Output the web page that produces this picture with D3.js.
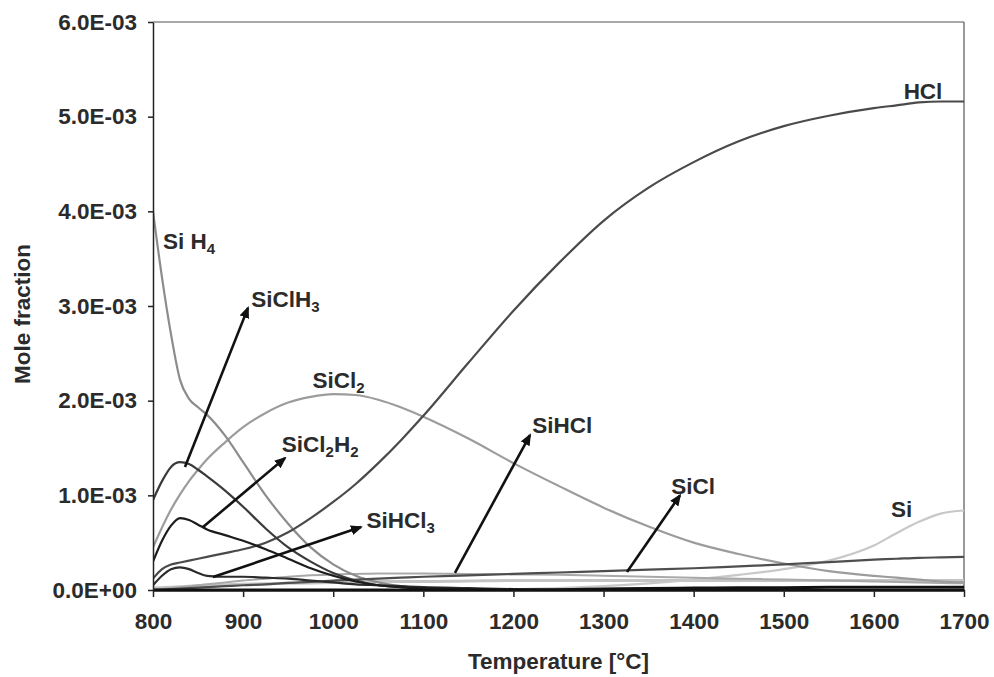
<!DOCTYPE html>
<html>
<head>
<meta charset="utf-8">
<script src="https://cdn.jsdelivr.net/npm/d3@7"></script>
<style>
  body { margin: 0; background: #fff; }
  text { font-family: "Liberation Sans", Arial, sans-serif; font-weight: bold; fill: #2b2b2b; }
</style>
</head>
<body>
<script>
/* ------------------------------- Chart data ------------------------------- */
// temperature grid [°C]
const temps = [800, 810, 820, 830, 840, 850, 860, 880, 900, 925, 950, 975, 1000, 1025, 1050, 1075, 1100,
               1150, 1200, 1250, 1300, 1350, 1400, 1450, 1500, 1550, 1600, 1625, 1650, 1675, 1700];

// mole fractions, in units of 1E-03
const SiH4    = [4.0, 3.3, 2.7, 2.22, 2.02, 1.93, 1.85, 1.63, 1.35, 1.0, 0.7, 0.45, 0.27, 0.15, 0.08, 0.04, 0.02,
                 0.01, 0, 0, 0, 0, 0, 0, 0, 0, 0, 0, 0, 0, 0];
const SiClH3  = [0.95, 1.15, 1.3, 1.35, 1.33, 1.27, 1.2, 1.05, 0.88, 0.65, 0.45, 0.3, 0.18, 0.1, 0.05, 0.03, 0.015,
                 0.005, 0, 0, 0, 0, 0, 0, 0, 0, 0, 0, 0, 0, 0];
const SiCl2   = [0.45, 0.66, 0.85, 1.01, 1.15, 1.27, 1.38, 1.56, 1.72, 1.87, 1.98, 2.04, 2.07, 2.06, 2.01, 1.93, 1.83,
                 1.6, 1.34, 1.1, 0.87, 0.67, 0.5, 0.38, 0.28, 0.2, 0.15, 0.13, 0.11, 0.09, 0.08];
const SiCl2H2 = [0.3, 0.52, 0.68, 0.76, 0.74, 0.69, 0.64, 0.58, 0.52, 0.43, 0.33, 0.23, 0.15, 0.09, 0.05, 0.03, 0.02,
                 0.01, 0, 0, 0, 0, 0, 0, 0, 0, 0, 0, 0, 0, 0];
const SiHCl3  = [0.05, 0.15, 0.22, 0.24, 0.22, 0.18, 0.15, 0.14, 0.14, 0.13, 0.12, 0.1, 0.08, 0.06, 0.05, 0.04, 0.03,
                 0.02, 0.01, 0.005, 0, 0, 0, 0, 0, 0, 0, 0, 0, 0, 0];
const HCl     = [0.12, 0.22, 0.27, 0.29, 0.31, 0.33, 0.35, 0.39, 0.43, 0.5, 0.61, 0.76, 0.93, 1.12, 1.34, 1.58, 1.84,
                 2.4, 2.95, 3.45, 3.9, 4.25, 4.52, 4.74, 4.9, 5.01, 5.09, 5.12, 5.15, 5.16, 5.16];
const SiHCl   = [0, 0.01, 0.02, 0.03, 0.04, 0.05, 0.06, 0.08, 0.1, 0.12, 0.14, 0.155, 0.165, 0.17, 0.175, 0.175, 0.175,
                 0.17, 0.165, 0.16, 0.15, 0.14, 0.13, 0.12, 0.11, 0.1, 0.09, 0.085, 0.08, 0.075, 0.07];
const SiCl    = [0, 0.005, 0.01, 0.015, 0.02, 0.025, 0.03, 0.04, 0.05, 0.06, 0.075, 0.085, 0.1, 0.11, 0.12, 0.13, 0.14,
                 0.155, 0.17, 0.185, 0.2, 0.215, 0.23, 0.25, 0.27, 0.295, 0.32, 0.33, 0.34, 0.345, 0.35];
const Si      = [0, 0, 0, 0, 0, 0, 0, 0, 0, 0, 0, 0, 0, 0, 0, 0, 0,
                 0, 0.01, 0.02, 0.04, 0.07, 0.11, 0.16, 0.22, 0.31, 0.47, 0.6, 0.72, 0.81, 0.84];
const SiCl4   = [0.02, 0.025, 0.03, 0.035, 0.04, 0.045, 0.05, 0.055, 0.06, 0.065, 0.07, 0.075, 0.08, 0.085, 0.09, 0.09, 0.09,
                 0.095, 0.1, 0.1, 0.1, 0.1, 0.1, 0.1, 0.1, 0.1, 0.1, 0.1, 0.1, 0.1, 0.1];
const SiCl3   = [0, 0, 0, 0, 0, 0, 0, 0, 0, 0, 0, 0, 0, 0, 0, 0, 0,
                 0, 0, 0.003, 0.01, 0.015, 0.02, 0.023, 0.025, 0.028, 0.03, 0.03, 0.03, 0.03, 0.03];

const xTicks = [800, 900, 1000, 1100, 1200, 1300, 1400, 1500, 1600, 1700];
const yTicks = [0, 1, 2, 3, 4, 5, 6];
const yTickLabels = ["0.0E+00", "1.0E-03", "2.0E-03", "3.0E-03", "4.0E-03", "5.0E-03", "6.0E-03"];

// drawing order: light curves underneath, dark ones on top
const series = [
  {name: "SiCl4",   values: SiCl4,   color: "#c4c4c4", w: 3},
  {name: "Si",      values: Si,      color: "#c8c8c8", w: 2.2},
  {name: "SiHCl",   values: SiHCl,   color: "#a9a9a9", w: 2},
  {name: "SiCl2",   values: SiCl2,   color: "#9c9c9c", w: 2.2},
  {name: "SiH4",    values: SiH4,    color: "#8c8c8c", w: 2.2},
  {name: "HCl",     values: HCl,     color: "#4a4a4a", w: 2.2},
  {name: "SiCl",    values: SiCl,    color: "#4e4e4e", w: 2.2},
  {name: "SiHCl3",  values: SiHCl3,  color: "#2c2c2c", w: 2.2},
  {name: "SiClH3",  values: SiClH3,  color: "#3a3a3a", w: 2.2},
  {name: "SiCl2H2", values: SiCl2H2, color: "#1c1c1c", w: 2.2},
  {name: "SiCl3",   values: SiCl3,   color: "#111111", w: 3}
];

// labels (text start, baseline) and arrows, in data units (°C, 1E-03)
const labels = [
  {text: "Si H_4",    t: 811,  v: 3.60},
  {text: "SiClH_3",   t: 909,  v: 2.99},
  {text: "SiCl_2",    t: 977,  v: 2.13},
  {text: "SiCl_2H_2", t: 943,  v: 1.46},
  {text: "SiHCl_3",   t: 1037, v: 0.655},
  {text: "SiHCl",     t: 1221, v: 1.66},
  {text: "SiCl",      t: 1375, v: 1.01},
  {text: "Si",        t: 1619, v: 0.77},
  {text: "HCl",       t: 1633, v: 5.19}
];
const arrows = [
  {t0: 835.5,  v0: 1.30,  t1: 905.4,  v1: 2.98},
  {t0: 855.5,  v0: 0.665, t1: 946.5,  v1: 1.394},
  {t0: 866.6,  v0: 0.137, t1: 1030.8, v1: 0.665},
  {t0: 1135.1, v0: 0.18,  t1: 1218.4, v1: 1.637},
  {t0: 1326,   v0: 0.19,  t1: 1384.8, v1: 1.0}
];

/* ------------------------------ Layout & SVG ------------------------------ */
const vWidth = 994, vHeight = 677;
const plot = {left: 153, right: 964, top: 22, bottom: 590};
const fontSize = 22.5;
const subSize = 15;

const svg = d3.select("body").append("svg").attr("width", vWidth).attr("height", vHeight);

const x = d3.scaleLinear().domain([800, 1700]).range([plot.left, plot.right]);
const y = d3.scaleLinear().domain([0, 6]).range([plot.bottom, plot.top]);

const defs = svg.append("defs");
defs.append("clipPath").attr("id", "clip")
  .append("rect")
  .attr("x", plot.left).attr("y", plot.top)
  .attr("width", plot.right - plot.left).attr("height", plot.bottom - plot.top);

defs.append("marker")
  .attr("id", "head")
  .attr("markerUnits", "userSpaceOnUse")
  .attr("viewBox", "0 0 12 10")
  .attr("refX", 10).attr("refY", 5)
  .attr("markerWidth", 12).attr("markerHeight", 10)
  .attr("orient", "auto")
  .append("path").attr("d", "M0,0 L12,5 L0,10 Z").attr("fill", "#111");

/* ---------------------------------- Frame --------------------------------- */
svg.append("line").attr("x1", plot.left).attr("x2", plot.right).attr("y1", plot.top).attr("y2", plot.top)
  .attr("stroke", "#555").attr("stroke-width", 1.2);
svg.append("line").attr("x1", plot.right).attr("x2", plot.right).attr("y1", plot.top).attr("y2", plot.bottom)
  .attr("stroke", "#555").attr("stroke-width", 1.2);

/* ---------------------------------- Curves -------------------------------- */
const line = d3.line()
  .x((d, i) => x(temps[i]))
  .y(d => y(d))
  .curve(d3.curveMonotoneX);

svg.append("g").attr("clip-path", "url(#clip)")
  .selectAll("path").data(series).enter().append("path")
  .attr("d", d => line(d.values))
  .attr("fill", "none")
  .attr("stroke", d => d.color)
  .attr("stroke-width", d => d.w)
  .attr("stroke-linejoin", "round");

/* ---------------------------------- Axes ---------------------------------- */
const xAxis = svg.append("g").attr("transform", `translate(0,${plot.bottom})`)
  .call(d3.axisBottom(x).tickValues(xTicks).tickSize(7).tickSizeOuter(0).tickFormat(d3.format("d")));
xAxis.select(".domain").attr("stroke", "#111").attr("stroke-width", 2.6);
xAxis.selectAll(".tick line").attr("stroke", "#222").attr("stroke-width", 1.5);
xAxis.selectAll(".tick text").attr("font-size", fontSize).attr("dy", "1.05em").attr("y", 15);

const yAxis = svg.append("g").attr("transform", `translate(${plot.left},0)`)
  .call(d3.axisLeft(y).tickValues(yTicks).tickSize(5).tickSizeOuter(0).tickFormat((d, i) => yTickLabels[i]));
yAxis.select(".domain").attr("stroke", "#222").attr("stroke-width", 1.5);
yAxis.selectAll(".tick line").attr("stroke", "#222").attr("stroke-width", 1.5);
yAxis.selectAll(".tick text").attr("font-size", fontSize).attr("x", -16);

// let the css font rule apply to tick labels
svg.selectAll(".tick text").attr("fill", null);
xAxis.attr("font-family", null).attr("font-size", null);
yAxis.attr("font-family", null).attr("font-size", null);

/* ------------------------------ Axis titles ------------------------------- */
svg.append("text")
  .attr("x", (plot.left + plot.right) / 2).attr("y", 669)
  .attr("text-anchor", "middle").attr("font-size", fontSize)
  .text("Temperature [°C]");

svg.append("text")
  .attr("transform", `translate(30,${(plot.top + plot.bottom) / 2 + 8}) rotate(-90)`)
  .attr("text-anchor", "middle").attr("font-size", fontSize)
  .text("Mole fraction");

/* ------------------------------ Annotations ------------------------------- */
svg.append("g").selectAll("line").data(arrows).enter().append("line")
  .attr("x1", d => x(d.t0)).attr("y1", d => y(d.v0))
  .attr("x2", d => x(d.t1)).attr("y2", d => y(d.v1))
  .attr("stroke", "#111").attr("stroke-width", 2.6)
  .attr("marker-end", "url(#head)");

// "SiCl_2H_2" -> text with subscript digits
const lbl = svg.append("g").selectAll("text").data(labels).enter().append("text")
  .attr("x", d => x(d.t)).attr("y", d => y(d.v))
  .attr("font-size", fontSize);

lbl.each(function(d) {
  const t = d3.select(this);
  let shift = 0;
  d.text.split(/(_\d)/).filter(s => s.length).forEach(part => {
    if (part[0] === "_") {
      t.append("tspan").attr("font-size", subSize).attr("dy", 5).text(part.slice(1));
      shift = -5;
    } else {
      t.append("tspan").attr("dy", shift).text(part);
      shift = 0;
    }
  });
});
</script>
</body>
</html>
